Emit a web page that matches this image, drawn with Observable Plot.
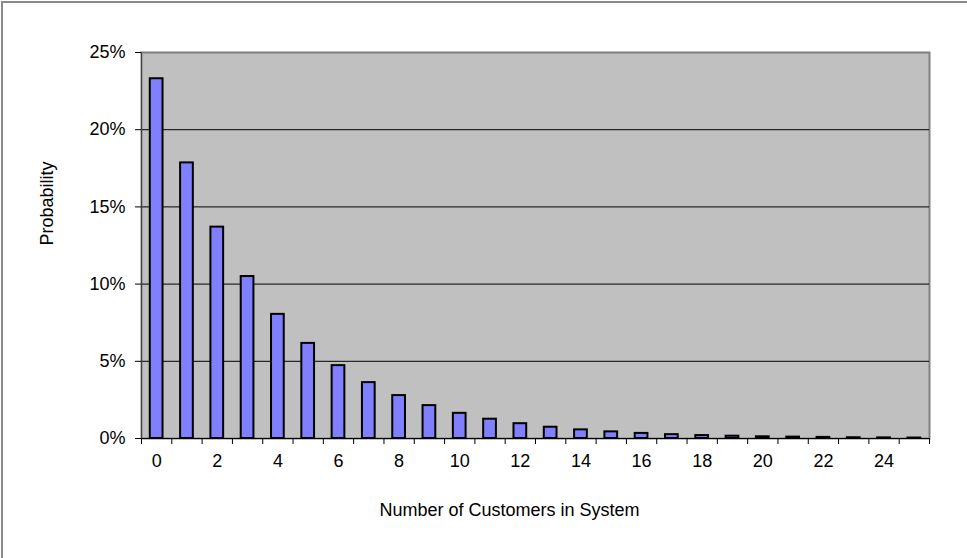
<!DOCTYPE html>
<html><head><meta charset="utf-8">
<script src="https://cdn.jsdelivr.net/npm/d3@7"></script>
<script src="https://cdn.jsdelivr.net/npm/@observablehq/plot@0.6"></script>
<style>
html,body{margin:0;padding:0;background:#fff;overflow:hidden}
#chart{position:relative;width:967px;height:558px}
#chart svg{position:absolute;left:0;top:0}
#border{position:absolute;left:1px;top:1px;width:1000px;height:1000px;border:2px solid #8a8a8a;pointer-events:none}
</style></head><body>
<div id="chart"><div id="border"></div></div>
<script>
const customers = [0,1,2,3,4,5,6,7,8,9,10,11,12,13,14,15,16,17,18,19,20,21,22,23,24,25];
const probability = [0.233,0.1785,0.1369,0.1049,0.0804,0.0616,0.0472,0.0362,0.0278,0.0213,0.0163,0.0125,0.0096,0.0073,0.0056,0.0043,0.0033,0.0025,0.0019,0.0015,0.0011,0.0009,0.0007,0.0005,0.0004,0.0003];
const yTicks = [0,0.05,0.10,0.15,0.20,0.25];
const xLabels = [0,2,4,6,8,10,12,14,16,18,20,22,24];
const xTitle = "Number of Customers in System";
const yTitle = "Probability";

const data = customers.map((n,i)=>({n, p: probability[i]}));
const half = 0.21;
const boundaries = d3.range(-0.5, 26, 1);

const plot = Plot.plot({
  width: 967, height: 558,
  marginLeft: 141, marginRight: 38, marginTop: 52, marginBottom: 120,
  style: {fontFamily: "'Liberation Sans', Arial, sans-serif", fontSize: "18px", background: "transparent", color: "#000", overflow: "visible"},
  x: {type: "linear", domain: [-0.5, 25.5]},
  y: {domain: [0, 0.25]},
  marks: [
    Plot.frame({fill: "#c0c0c0", stroke: "#808080", strokeWidth: 2}),
    Plot.gridY(yTicks.slice(1, -1), {stroke: "#000", strokeOpacity: 1}),
    Plot.rectY(data, {x1: d => d.n - half, x2: d => d.n + half, y: "p", fill: "#8080ff", stroke: "#000", strokeWidth: 2}),
    Plot.ruleX([-0.5], {stroke: "#404040"}),
    Plot.ruleY([0], {stroke: "#000"}),
    Plot.axisY(yTicks, {tickFormat: d3.format(".0%"), tickSize: 6, tickPadding: 10, label: null}),
    Plot.axisX(boundaries, {tickFormat: () => "", tickSize: 6, label: null}),
    Plot.axisX(xLabels, {tickSize: 0, tickPadding: 16, label: null}),
    Plot.text([xTitle], {text: d => d, frameAnchor: "bottom", dy: 77, dx: -26}),
    Plot.text([yTitle], {text: d => d, frameAnchor: "left", dx: -94, rotate: -90})
  ]
});
document.getElementById("chart").appendChild(plot);
</script>
</body></html>
